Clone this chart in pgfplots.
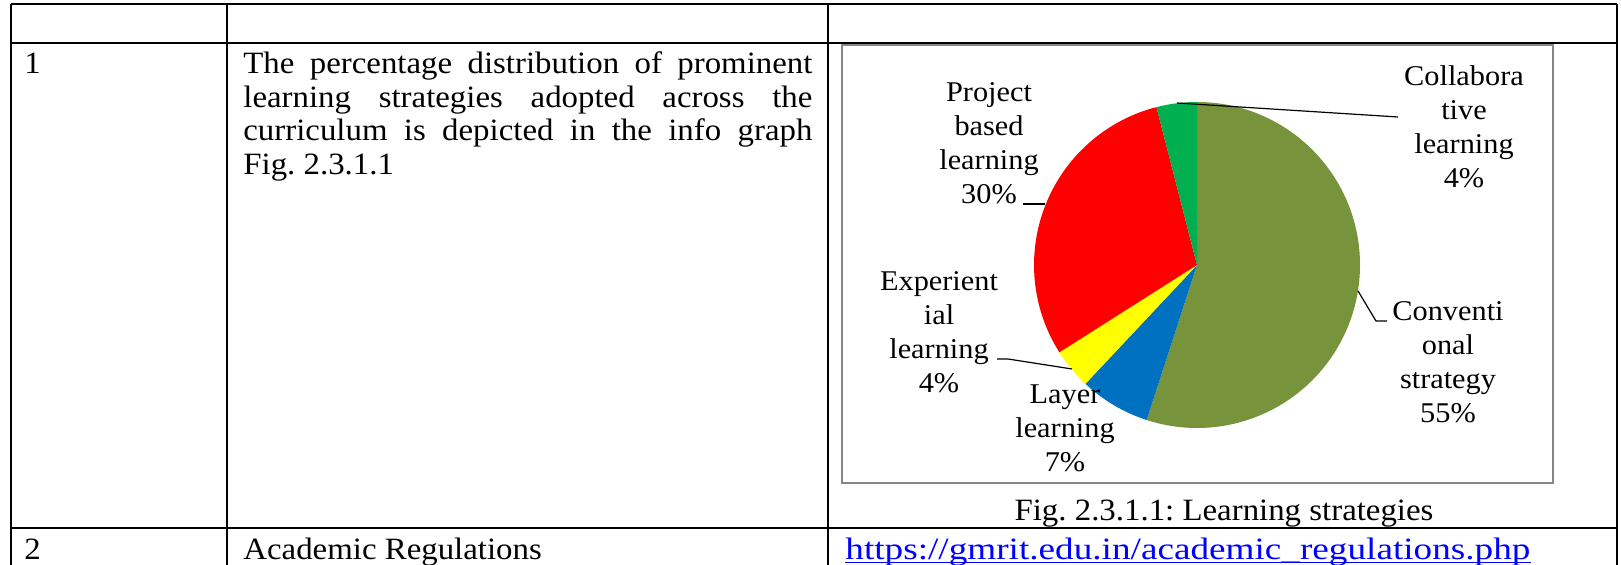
\documentclass[border=0pt]{standalone}
\usepackage{pgfplots}
\pgfplotsset{compat=1.18}
\usepackage{pgfplotstable}
\usepackage{fontspec}
\setmainfont{Liberation Serif}[FakeStretch=1.06]
\newfontfamily\urlfont{Liberation Serif}[FakeStretch=1.2]
\definecolor{slice0}{HTML}{77933C}
\definecolor{slice1}{HTML}{0070C0}
\definecolor{slice2}{HTML}{FFFF00}
\definecolor{slice3}{HTML}{FF0000}
\definecolor{slice4}{HTML}{00B050}
\definecolor{framegray}{HTML}{868686}
\definecolor{linkblue}{HTML}{0000FF}

% Conventional strategy, Layer learning, Experiential learning, Project based learning, Collaborative learning
\pgfplotstableread{
value
55
7
4
30
4
}\piedata

\newcommand\fs{\fontsize{14.3}{17}\selectfont}
\newcommand\bs{\fontsize{15.5}{16.75}\selectfont}
\newcommand\lbl[3]{\node[anchor=base,inner sep=0pt,font=\fs] at (#1,#2) {#3};}
\frenchspacing

\begin{document}
\begin{tikzpicture}
\begin{scope}[x=0.5pt,y=-0.5pt]
\useasboundingbox (0,0) rectangle (1621,565);
\draw[line width=1pt] (11,4) -- (1617,4);
\draw[line width=1pt] (11,43) -- (1617,43);
\draw[line width=1pt] (11,528) -- (1617,528);
\foreach \xx in {11,227,828,1617}{\draw[line width=1pt] (\xx,4) -- (\xx,565);}
\draw[framegray, line width=0.75pt, fill=white] (842,45) rectangle (1553,483);
\node[anchor=base west,inner sep=0pt,font=\bs] at (24,74) {1};
\node[anchor=base west,inner sep=0pt] at (243,74) {\parbox[t]{284.5pt}{\bs The percentage distribution of prominent\linebreak learning strategies adopted across the\linebreak curriculum is depicted in the info graph\linebreak Fig. 2.3.1.1}};
\node[anchor=base,inner sep=0pt,font=\bs] at (1224,521) {Fig. 2.3.1.1: Learning strategies};
\node[anchor=base west,inner sep=0pt,font=\bs] at (24,560) {2};
\node[anchor=base west,inner sep=0pt,font=\bs] at (243,560) {Academic Regulations};
\node[anchor=base west,inner sep=0pt,font=\bs\urlfont,text=linkblue] (url) at (845,560) {https://gmrit.edu.in/academic\_regulations.php};
\draw[linkblue, line width=0.6pt] ([yshift=-1.4pt]url.base west) -- ([yshift=-1.4pt]url.base east);
\end{scope}

\begin{axis}[at={(598.5pt,-132.5pt)}, anchor=center, scale only axis,
  width=195.6pt, height=195.6pt, xmin=-1.2, xmax=1.2, ymin=-1.2, ymax=1.2,
  hide axis, clip=false]
\pgfmathsetmacro{\cum}{0}
\pgfplotsforeachungrouped \i in {0,...,4}{%
  \pgfplotstablegetelem{\i}{value}\of\piedata
  \let\v\pgfplotsretval
  \pgfmathsetmacro{\a}{90-3.6*\cum}%
  \pgfmathsetmacro{\cum}{\cum+\v}%
  \pgfmathsetmacro{\b}{90-3.6*\cum}%
  \edef\temp{\noexpand\fill[slice\i] (axis cs:0,0) -- (axis cs:{cos(\a)},{sin(\a)}) arc[start angle=\a,end angle=\b,radius=81.5pt] -- cycle;}%
  \temp
}
\end{axis}

\begin{scope}[x=0.5pt,y=-0.5pt]
\draw[line width=0.6pt] (1177,103) -- (1398,117);
\draw[line width=0.6pt] (1023,204) -- (1045,204);
\draw[line width=0.6pt] (1358,291) -- (1376,321) -- (1387,321);
\draw[line width=0.6pt] (997,359) -- (1008,359) -- (1072,369);
\lbl{1464}{86}{Collabora}
\lbl{1464}{120}{tive}
\lbl{1464}{154}{learning}
\lbl{1464}{188}{4\%}
\lbl{1448}{321}{Conventi}
\lbl{1448}{355}{onal}
\lbl{1448}{389}{strategy}
\lbl{1448}{423}{55\%}
\lbl{989}{102}{Project}
\lbl{989}{136}{based}
\lbl{989}{170}{learning}
\lbl{989}{204}{30\%}
\lbl{939}{291}{Experient}
\lbl{939}{325}{ial}
\lbl{939}{359}{learning}
\lbl{939}{393}{4\%}
\lbl{1065}{404}{Layer}
\lbl{1065}{438}{learning}
\lbl{1065}{472}{7\%}
\end{scope}
\end{tikzpicture}
\end{document}
